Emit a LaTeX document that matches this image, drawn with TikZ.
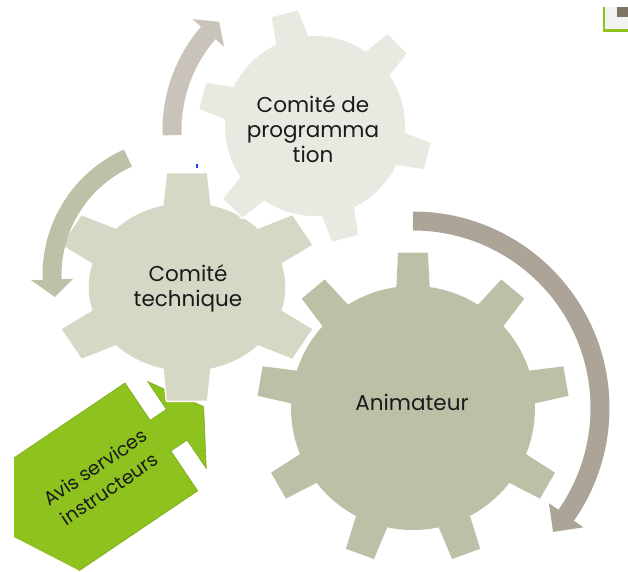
\documentclass[tikz,border=0pt]{standalone}
\usepackage{fontspec}
\setmainfont{Poppins}
\definecolor{colProg}{HTML}{E8E9E0}
\definecolor{colTech}{HTML}{D6D7C4}
\definecolor{colAnim}{HTML}{BDC0A6}
\definecolor{colArrProg}{HTML}{C9C3BB}
\definecolor{colArrTech}{HTML}{BEC1A8}
\definecolor{colArrAnim}{HTML}{ACA597}
\definecolor{colAvis}{HTML}{8DC21F}
\definecolor{colAvisEdge}{HTML}{79A916}
\definecolor{colText}{HTML}{1A1A1A}
\definecolor{colFrag}{HTML}{7E7463}
\definecolor{colFragBg}{HTML}{F2F2F2}
\definecolor{colMark}{HTML}{2040F0}

% gear: #1 fill, #2 tooth angles, #3 root radius, #4 tip radius,
%       #5 root half-angle, #6 tip half-angle
\newcommand{\gear}[6]{%
  \path[rim] (0,0) circle[radius=#3];
  \foreach \a in {#2}
    \path[rim] ({\a-#5}:{#3-4}) -- ({\a-#6}:#4) -- ({\a+#6}:#4) -- ({\a+#5}:{#3-4}) -- cycle;
  \fill[#1] (0,0) circle[radius=#3];
  \foreach \a in {#2}
    \fill[#1] ({\a-#5}:{#3-4}) -- ({\a-#6}:#4) -- ({\a+#6}:#4) -- ({\a+#5}:{#3-4}) -- cycle;
}

\begin{document}
\begin{tikzpicture}[
    x=1pt, y=-1pt,
    gearlbl/.style={align=center, text=colText, inner sep=0pt,
                    font=\fontsize{21.5}{25}\selectfont},
    avislbl/.style={align=center, text=colText, inner sep=0pt, rotate=34,
                    font=\fontsize{19}{26}\selectfont},
    band/.style={line width=19pt},
    rim/.style={draw=white, line width=3pt, line join=round},
]
\useasboundingbox (0,0) rectangle (628,571);
\clip (0,0) rectangle (628,571);

% ---- gear centres ------------------------------------------------------
\coordinate (gprog) at (315,126);
\coordinate (gtech) at (187,287);
\coordinate (ganim) at (413,408);

% ---- green arrow: Avis services instructeurs ---------------------------
\begin{scope}
  \clip (14,370) -- (14,537) -- (80,571) -- (230,571) -- (230,370) -- cycle;
  \begin{scope}[shift={(125,383)}, rotate=34]
    \filldraw[fill=colAvis, draw=colAvisEdge, line width=0.6pt]
      (-220,0) -- (0,0) -- (0,45) -- (19.6,45) -- (19.6,11.5) -- (52,63.5)
      -- (19.6,116.3) -- (19.6,82) -- (0,82) -- (0,130) -- (-220,130) -- cycle;
    \node[avislbl] (avis) at (-72,66) {Avis services\\instructeurs};
  \end{scope}
\end{scope}

% ---- gears -------------------------------------------------------------
\begin{scope}[shift={(ganim)}]
  \gear{colAnim}{-90,-50,-10,30,70,110,150,190,230}{122}{156}{8.2}{5.5}
\end{scope}
\begin{scope}[shift={(gtech)}, xscale=1.17]
  \gear{colTech}{30,90,150,210,270,330}{84}{115}{14.7}{8.5}
\end{scope}
\begin{scope}[shift={(gprog)}]
  \gear{colProg}{-105,-45,15,75,135,195}{90}{117}{11.5}{6.6}
\end{scope}

\node[gearlbl] (prog) at (313,129) {Comité de\\programma\\tion};
\node[gearlbl] (tech) at (188,288) {Comité\\technique};
\node[gearlbl] (anim) at (412,402) {Animateur};

% ---- circular arrows ---------------------------------------------------
\begin{scope}[shift={(320,130)}]
  \draw[band, colArrProg] (-182:148) arc[start angle=-182, end angle=-138.5, radius=148];
  \fill[colArrProg] (-139:127) -- (-133:148) -- (-139:169) -- cycle;
\end{scope}
\begin{scope}[shift={(180,275)}]
  \draw[band, colArrTech] (-114:128) arc[start angle=-114, end angle=-182.5, radius=128];
  \fill[colArrTech] (-182:107) -- (-190:127) -- (-182:149) -- cycle;
\end{scope}
\begin{scope}[shift={(ganim)}]
  \draw[band, colArrAnim] (-90:187) arc[start angle=-90, end angle=35.5, radius=187];
  \fill[colArrAnim] (35:166) -- (41.5:187) -- (35:208) -- cycle;
\end{scope}

% ---- cut-off fragment top right, stray mark ----------------------------
\fill[colFragBg] (604,7) rectangle (640,30);
\fill[colFrag] (617,7) rectangle (627.5,17);
\draw[colAvis, line width=2.3pt] (604,7) -- (604,30.5) -- (640,30.5);
\fill[colMark] (196.2,163.5) rectangle (197.8,168);

\end{tikzpicture}
\end{document}
